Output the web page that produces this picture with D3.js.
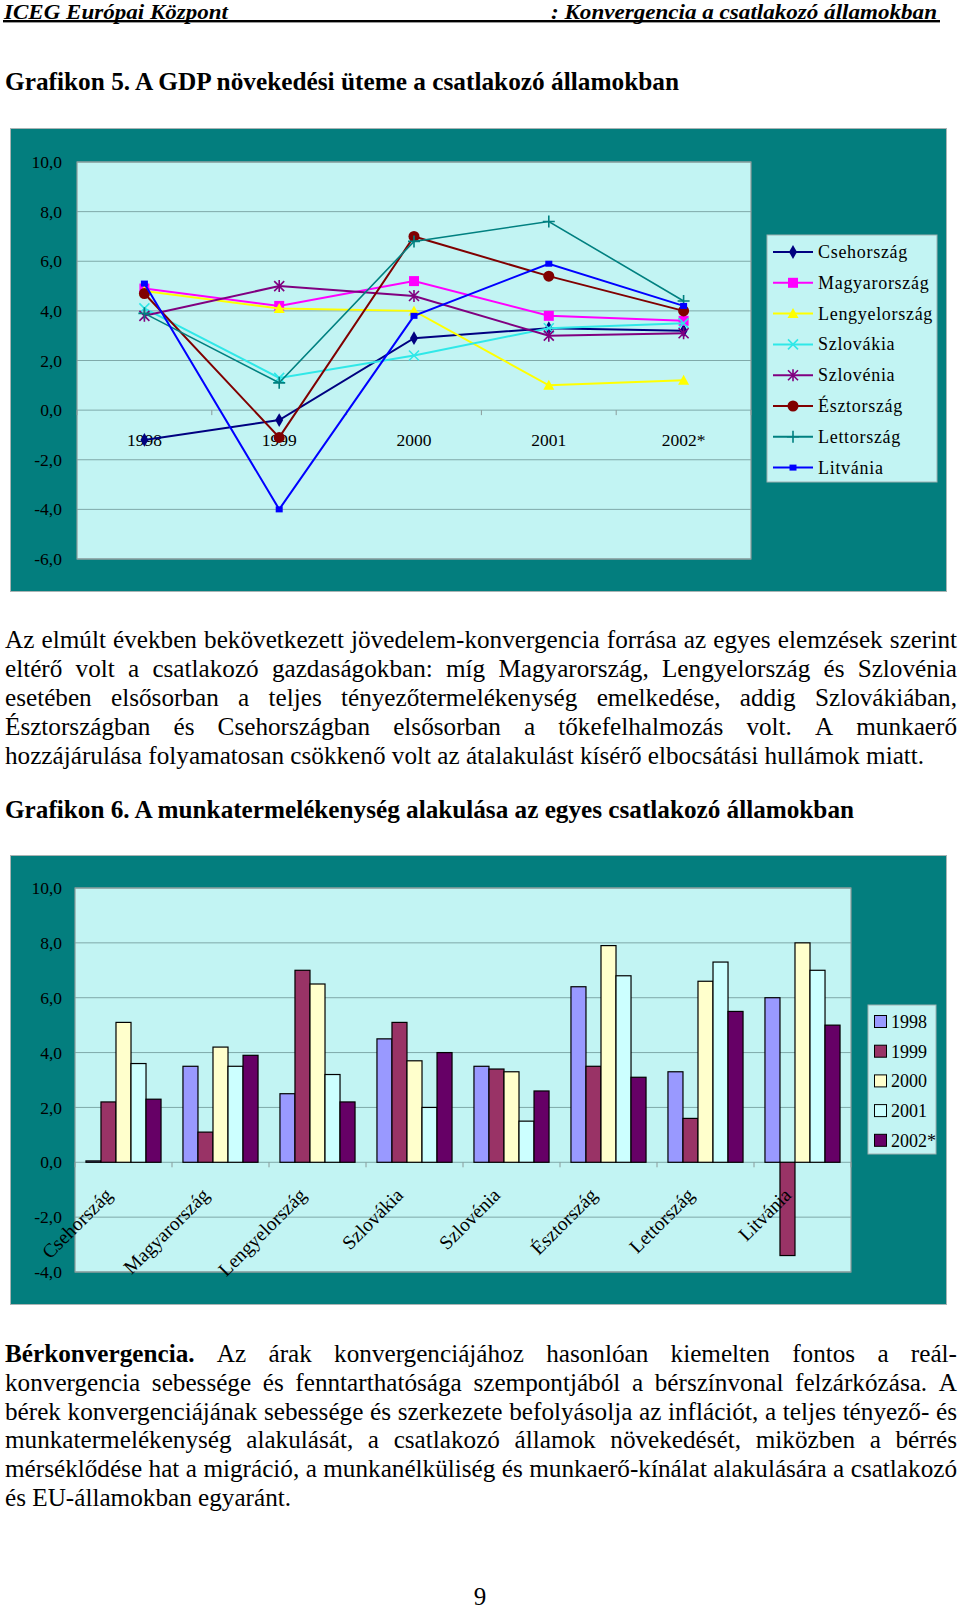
<!DOCTYPE html>
<html><head><meta charset="utf-8">
<script src="https://cdn.jsdelivr.net/npm/d3@7"></script>
<style>
html,body{margin:0;padding:0;background:#fff;}
svg{display:block;font-family:"Liberation Serif","Times New Roman",serif;}
</style></head>
<body>
<svg id="page" width="960" height="1609"></svg>
<script>
// ---------- DATA ----------
const years = ["1998", "1999", "2000", "2001", "2002*"];
const countries = ["Csehország", "Magyarország", "Lengyelország", "Szlovákia", "Szlovénia", "Észtország", "Lettország", "Litvánia"];
const yTicks1 = [-6, -4, -2, 0, 2, 4, 6, 8, 10];
const yTicks2 = [-4, -2, 0, 2, 4, 6, 8, 10];

// Grafikon 5: GDP growth per country over years
const gdpCseh = [-1.2, -0.4, 2.9, 3.3, 3.2];
const gdpMagyar = [4.9, 4.2, 5.2, 3.8, 3.6];
const gdpLengyel = [4.8, 4.1, 4.0, 1.0, 1.2];
const gdpSzlovakia = [4.1, 1.3, 2.2, 3.3, 3.5];
const gdpSzlovenia = [3.8, 5.0, 4.6, 3.0, 3.1];
const gdpEszt = [4.7, -1.1, 7.0, 5.4, 4.0];
const gdpLett = [3.9, 1.1, 6.8, 7.6, 4.4];
const gdpLitv = [5.1, -4.0, 3.8, 5.9, 4.2];

// Grafikon 6: labour productivity per year (values by country)
const prod1998 = [0.05, 3.5, 2.5, 4.5, 3.5, 6.4, 3.3, 6.0];
const prod1999 = [2.2, 1.1, 7.0, 5.1, 3.4, 3.5, 1.6, -3.4];
const prod2000 = [5.1, 4.2, 6.5, 3.7, 3.3, 7.9, 6.6, 8.0];
const prod2001 = [3.6, 3.5, 3.2, 2.0, 1.5, 6.8, 7.3, 7.0];
const prod2002 = [2.3, 3.9, 2.2, 4.0, 2.6, 3.1, 5.5, 5.0];

// Text
const headerLeft = "ICEG Európai Központ";
const headerRight = ": Konvergencia a csatlakozó államokban";
const title5 = "Grafikon 5. A GDP növekedési üteme a csatlakozó államokban";
const title6 = "Grafikon 6. A munkatermelékenység alakulása az egyes csatlakozó államokban";
const para1 = [
  "Az elmúlt években bekövetkezett jövedelem-konvergencia forrása az egyes elemzések szerint",
  "eltérő volt a csatlakozó gazdaságokban: míg Magyarország, Lengyelország és Szlovénia",
  "esetében elsősorban a teljes tényezőtermelékenység emelkedése, addig Szlovákiában,",
  "Észtországban és Csehországban elsősorban a tőkefelhalmozás volt. A munkaerő",
  "hozzájárulása folyamatosan csökkenő volt az átalakulást kísérő elbocsátási hullámok miatt."
];
const para2 = [
  "**Bérkonvergencia.** Az árak konvergenciájához hasonlóan kiemelten fontos a reál-",
  "konvergencia sebessége és fenntarthatósága szempontjából a bérszínvonal felzárkózása. A",
  "bérek konvergenciájának sebessége és szerkezete befolyásolja az inflációt, a teljes tényező- és",
  "munkatermelékenység alakulását, a csatlakozó államok növekedését, miközben a bérrés",
  "mérséklődése hat a migráció, a munkanélküliség és munkaerő-kínálat alakulására a csatlakozó",
  "és EU-államokban egyaránt."
];
const pageNumber = "9";

// ---------- STYLE ----------
const TEAL = "#037e7e";
const PLOT = "#c2f4f3";
const GRID = "#7fa9a9";
const fmt = d => d.toFixed(1).replace(".", ",");

const svg = d3.select("#page");

// ---------- TEXT HELPERS ----------
function justify(g, line, x0, x1, yb, size, doJustify) {
  const raw = line.split(" ");
  let boldOn = false;
  const words = raw.map(w => {
    if (w.startsWith("**")) boldOn = true;
    const o = {t: w.replace(/\*\*/g, ""), bold: boldOn};
    if (w.endsWith("**")) boldOn = false;
    return o;
  });
  const nodes = words.map(w => g.append("text").attr("y", yb).attr("font-size", size)
    .attr("font-weight", w.bold ? "bold" : "normal").text(w.t));
  const widths = nodes.map(n => n.node().getComputedTextLength());
  const space = size * 0.25;
  const total = d3.sum(widths);
  const gap = doJustify ? (x1 - x0 - total) / (words.length - 1) : space;
  let x = x0;
  nodes.forEach((n, i) => { n.attr("x", x); x += widths[i] + gap; });
}

// Header
svg.append("text").attr("x", 4).attr("y", 18.5).attr("font-size", 20).attr("font-style", "italic")
  .attr("font-weight", "bold").attr("textLength", 224).attr("lengthAdjust", "spacingAndGlyphs")
  .text(headerLeft);
svg.append("text").attr("x", 551).attr("y", 18.5).attr("font-size", 20).attr("font-style", "italic")
  .attr("font-weight", "bold").attr("textLength", 386).attr("lengthAdjust", "spacingAndGlyphs")
  .text(headerRight);
svg.append("rect").attr("x", 3).attr("y", 20).attr("width", 937).attr("height", 2.4).attr("fill", "#000");

svg.append("text").attr("x", 5).attr("y", 90).attr("font-size", 25).attr("font-weight", "bold")
  .attr("textLength", 674).attr("lengthAdjust", "spacingAndGlyphs").text(title5);

const tg = svg.append("g").attr("fill", "#000");
const p1y = [648, 677, 706, 735, 764];
para1.forEach((l, i) => justify(tg, l, 5, 957, p1y[i], 25.2, i < para1.length - 1));
svg.append("text").attr("x", 5).attr("y", 818).attr("font-size", 25).attr("font-weight", "bold")
  .attr("textLength", 849).attr("lengthAdjust", "spacingAndGlyphs").text(title6);
const p2y = [1362, 1391, 1420, 1448, 1477, 1506];
para2.forEach((l, i) => justify(tg, l, 5, 957, p2y[i], 25.2, i < para2.length - 1));
svg.append("text").attr("x", 480).attr("y", 1605).attr("font-size", 25).attr("text-anchor", "middle").text(pageNumber);

// ---------- CHART 1 ----------
(function () {
  const g = svg.append("g");
  g.append("rect").attr("x", 10.5).attr("y", 128.5).attr("width", 936).attr("height", 463)
    .attr("fill", TEAL).attr("stroke", "#a9b4b4").attr("stroke-width", 1);
  const L = 77, R = 751, T = 162, B = 559;
  g.append("rect").attr("x", L).attr("y", T).attr("width", R - L).attr("height", B - T).attr("fill", PLOT);
  const x = d3.scaleBand().domain(years).range([L, R]);
  const y = d3.scaleLinear().domain([-6, 10]).range([B, T]);
  const cx = d => x(d) + x.bandwidth() / 2;

  g.append("g").selectAll("line").data(yTicks1).join("line")
    .attr("x1", L).attr("x2", R).attr("y1", d => y(d)).attr("y2", d => y(d))
    .attr("stroke", GRID).attr("stroke-width", 1);
  g.append("rect").attr("x", L).attr("y", T).attr("width", R - L).attr("height", B - T)
    .attr("fill", "none").attr("stroke", "#8a9a9a").attr("stroke-width", 1.2);

  const ya = g.append("g").attr("transform", `translate(${L},0)`)
    .call(d3.axisLeft(y).tickValues(yTicks1).tickSize(0).tickPadding(15).tickFormat(fmt));
  ya.select(".domain").remove();
  ya.selectAll("text").attr("font-size", 17.5).attr("font-family", "Liberation Serif").attr("fill", "#000");

  // category ticks on the zero line
  g.append("g").selectAll("line").data(d3.range(years.length + 1)).join("line")
    .attr("x1", i => L + i * x.step()).attr("x2", i => L + i * x.step())
    .attr("y1", y(0)).attr("y2", y(0) + 5).attr("stroke", "#8a9a9a");
  const xa = g.append("g").attr("transform", `translate(0,${y(0) + 23})`)
    .call(d3.axisBottom(x).tickSize(0).tickPadding(0));
  xa.select(".domain").remove();
  xa.selectAll("text").attr("font-size", 17.5).attr("font-family", "Liberation Serif").attr("fill", "#000");

  const series = [
    {name: countries[0], vals: gdpCseh, color: "#000080", mk: "diamond"},
    {name: countries[1], vals: gdpMagyar, color: "#ff00ff", mk: "square"},
    {name: countries[2], vals: gdpLengyel, color: "#ffff00", mk: "triangle"},
    {name: countries[3], vals: gdpSzlovakia, color: "#2fe8e8", mk: "x"},
    {name: countries[4], vals: gdpSzlovenia, color: "#800080", mk: "star"},
    {name: countries[5], vals: gdpEszt, color: "#800000", mk: "circle"},
    {name: countries[6], vals: gdpLett, color: "#008080", mk: "plus"},
    {name: countries[7], vals: gdpLitv, color: "#0000ff", mk: "dash"}
  ];
  function marker(sel, mk, color) {
    if (mk === "diamond") sel.append("path").attr("d", d3.symbol(d3.symbolDiamond, 55)()).attr("fill", color);
    else if (mk === "square") sel.append("rect").attr("x", -5).attr("y", -5).attr("width", 10).attr("height", 10).attr("fill", color);
    else if (mk === "triangle") sel.append("path").attr("d", "M0,-5.5L5.5,4.5L-5.5,4.5Z").attr("fill", color);
    else if (mk === "circle") sel.append("circle").attr("r", 5.5).attr("fill", color);
    else if (mk === "dash") sel.append("rect").attr("x", -3.5).attr("y", -3).attr("width", 7).attr("height", 6).attr("fill", color);
    else if (mk === "x") sel.append("path").attr("d", "M-5,-5L5,5M-5,5L5,-5").attr("stroke", color).attr("stroke-width", 1.6);
    else if (mk === "star") sel.append("path").attr("d", "M-5,-5L5,5M-5,5L5,-5M0,-6L0,6").attr("stroke", color).attr("stroke-width", 1.6);
    else if (mk === "plus") sel.append("path").attr("d", "M-6,0L6,0M0,-6L0,6").attr("stroke", color).attr("stroke-width", 1.6);
  }
  const line = d3.line().x((d, i) => cx(years[i])).y(d => y(d));
  series.forEach(s => {
    g.append("path").attr("d", line(s.vals)).attr("fill", "none").attr("stroke", s.color)
      .attr("stroke-width", s.mk === "plus" ? 1.6 : 2);
    s.vals.forEach((v, i) => {
      marker(g.append("g").attr("transform", `translate(${cx(years[i])},${y(v)})`), s.mk, s.color);
    });
  });

  // legend
  const lg = g.append("g");
  lg.append("rect").attr("x", 767).attr("y", 235).attr("width", 170).attr("height", 247)
    .attr("fill", PLOT).attr("stroke", "#9fb0b0");
  series.forEach((s, i) => {
    const yy = 252 + i * 30.8;
    lg.append("line").attr("x1", 773).attr("x2", 813).attr("y1", yy).attr("y2", yy)
      .attr("stroke", s.color).attr("stroke-width", 2);
    marker(lg.append("g").attr("transform", `translate(793,${yy})`), s.mk, s.color);
    lg.append("text").attr("x", 818).attr("y", yy + 6).attr("font-size", 18)
      .attr("letter-spacing", 0.7).text(s.name);
  });
})();

// ---------- CHART 2 ----------
(function () {
  const g = svg.append("g");
  g.append("rect").attr("x", 10.5).attr("y", 855.5).attr("width", 936).attr("height", 449)
    .attr("fill", TEAL).attr("stroke", "#a9b4b4").attr("stroke-width", 1);
  const L = 75, R = 851, T = 888, B = 1272;
  g.append("rect").attr("x", L).attr("y", T).attr("width", R - L).attr("height", B - T).attr("fill", PLOT);
  const x0 = d3.scaleBand().domain(countries).range([L, R]);
  const bw = x0.bandwidth();
  const x1 = d3.scaleBand().domain(years).range([bw * 0.113, bw * 0.887]);
  const y = d3.scaleLinear().domain([-4, 10]).range([B, T]);

  g.append("g").selectAll("line").data(yTicks2).join("line")
    .attr("x1", L).attr("x2", R).attr("y1", d => y(d)).attr("y2", d => y(d))
    .attr("stroke", GRID).attr("stroke-width", 1);
  g.append("rect").attr("x", L).attr("y", T).attr("width", R - L).attr("height", B - T)
    .attr("fill", "none").attr("stroke", "#8a9a9a").attr("stroke-width", 1.2);

  const ya = g.append("g").attr("transform", `translate(${L},0)`)
    .call(d3.axisLeft(y).tickValues(yTicks2).tickSize(0).tickPadding(13).tickFormat(fmt));
  ya.select(".domain").remove();
  ya.selectAll("text").attr("font-size", 17.5).attr("font-family", "Liberation Serif").attr("fill", "#000");

  g.append("g").selectAll("line").data(d3.range(countries.length + 1)).join("line")
    .attr("x1", i => L + i * x0.step()).attr("x2", i => L + i * x0.step())
    .attr("y1", y(0)).attr("y2", y(0) + 5).attr("stroke", "#8a9a9a");

  const yearSeries = [
    {year: years[0], vals: prod1998, color: "#9999ff"},
    {year: years[1], vals: prod1999, color: "#993366"},
    {year: years[2], vals: prod2000, color: "#ffffcc"},
    {year: years[3], vals: prod2001, color: "#ccffff"},
    {year: years[4], vals: prod2002, color: "#660066"}
  ];
  yearSeries.forEach(s => {
    g.append("g").selectAll("rect").data(s.vals).join("rect")
      .attr("x", (v, i) => x0(countries[i]) + x1(s.year))
      .attr("width", x1.bandwidth())
      .attr("y", v => Math.min(y(v), y(0)))
      .attr("height", v => Math.abs(y(v) - y(0)))
      .attr("fill", s.color).attr("stroke", "#000").attr("stroke-width", 1.2);
  });

  // category labels
  g.append("g").selectAll("text").data(countries).join("text")
    .attr("transform", d => `translate(${x0(d) + bw / 2 - 10},${y(0) + 34}) rotate(-45)`)
    .attr("text-anchor", "end").attr("font-size", 19.5).text(d => d);

  // legend
  const lg = g.append("g");
  lg.append("rect").attr("x", 868).attr("y", 1005).attr("width", 68).attr("height", 149)
    .attr("fill", PLOT).attr("stroke", "#9fb0b0");
  yearSeries.forEach((s, i) => {
    const yy = 1022 + i * 29.7;
    lg.append("rect").attr("x", 874.5).attr("y", yy - 6.5).attr("width", 12).attr("height", 12)
      .attr("fill", s.color).attr("stroke", "#000");
    lg.append("text").attr("x", 891).attr("y", yy + 6).attr("font-size", 18).text(s.year);
  });
})();
</script>
</body></html>
